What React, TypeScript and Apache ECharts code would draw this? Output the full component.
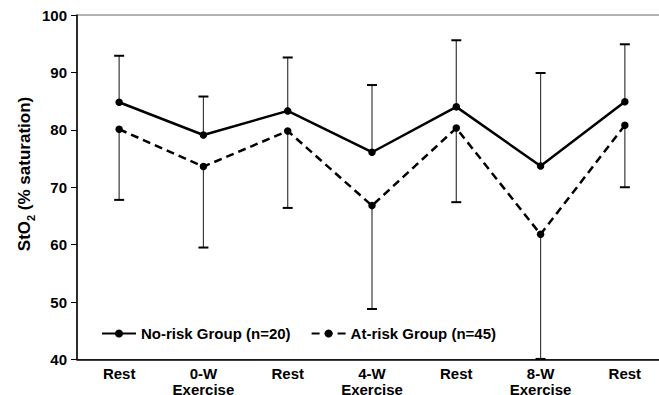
import React, { useEffect, useRef } from "react";
import * as echarts from "echarts";

const categories = ["Rest", "0-W\nExercise", "Rest", "4-W\nExercise", "Rest", "8-W\nExercise", "Rest"];
const yTicks = [40, 50, 60, 70, 80, 90, 100];
const noRiskName = "No-risk Group (n=20)";
const atRiskName = "At-risk Group (n=45)";
const noRiskMean = [84.8, 79.1, 83.3, 76.1, 84.0, 73.7, 84.9];
const noRiskUpper = [92.9, 85.8, 92.6, 87.8, 95.6, 89.9, 94.9];
const atRiskMean = [80.1, 73.6, 79.8, 66.8, 80.3, 61.8, 80.8];
const atRiskLower = [67.8, 59.5, 66.4, 48.8, 67.4, 40.1, 70.0];

const FONT = "Liberation Sans, Arial, Helvetica, sans-serif";

function errorSeries(mean: number[], bound: number[]) {
  return {
    type: "custom",
    z: 1,
    silent: true,
    data: mean.map((m, i) => [i, m, bound[i]]),
    encode: { x: 0, y: [1, 2] },
    renderItem: (params: any, api: any) => {
      const i = api.value(0);
      const p0 = api.coord([i, api.value(1)]);
      const p1 = api.coord([i, api.value(2)]);
      const hw = 5;
      return {
        type: "group",
        children: [
          {
            type: "line",
            shape: { x1: p0[0], y1: p0[1], x2: p1[0], y2: p1[1] },
            style: { stroke: "#3a3a3a", lineWidth: 1.2 },
          },
          {
            type: "line",
            shape: { x1: p1[0] - hw, y1: p1[1], x2: p1[0] + hw, y2: p1[1] },
            style: { stroke: "#000", lineWidth: 2 },
          },
        ],
      };
    },
  };
}

export default function App() {
  const ref = useRef<HTMLDivElement>(null);
  useEffect(() => {
    if (!ref.current) return;
    const chart = echarts.init(ref.current, undefined, { renderer: "svg" });
    chart.setOption({
      animation: false,
      backgroundColor: "#fff",
      textStyle: { fontFamily: FONT },
      grid: {
        left: 77,
        width: 590,
        top: 15,
        bottom: 35.5,
        outerBoundsMode: "none",
        containLabel: false,
        show: true,
        borderColor: "#666",
        borderWidth: 1,
        backgroundColor: "transparent",
      },
      legend: {
        data: [noRiskName, atRiskName],
        left: 101,
        top: 326,
        padding: 0,
        itemWidth: 34,
        itemHeight: 10,
        itemGap: 20,
        textStyle: { fontFamily: FONT, fontWeight: "bold", fontSize: 15, color: "#000" },
      },
      xAxis: {
        type: "category",
        data: categories,
        boundaryGap: true,
        axisLine: { lineStyle: { color: "#000", width: 1.5 } },
        axisTick: { alignWithLabel: true, length: 5, lineStyle: { color: "#000", width: 1 } },
        axisLabel: {
          interval: 0,
          margin: 6,
          fontFamily: FONT,
          fontWeight: "bold",
          fontSize: 15,
          lineHeight: 16,
          color: "#000",
        },
        splitLine: { show: false },
      },
      yAxis: {
        type: "value",
        min: yTicks[0],
        max: yTicks[yTicks.length - 1],
        interval: 10,
        axisLine: { show: true, lineStyle: { color: "#000", width: 1.5 } },
        axisTick: { show: true, length: 6, lineStyle: { color: "#000", width: 1 } },
        axisLabel: {
          margin: 10,
          fontFamily: FONT,
          fontWeight: "bold",
          fontSize: 15,
          color: "#000",
        },
        splitLine: { show: false },
      },
      graphic: [
        {
          type: "text",
          x: 24,
          y: 174,
          rotation: Math.PI / 2,
          style: {
            text: "{a|StO}{s|2}{a| (% saturation)}",
            align: "center",
            verticalAlign: "middle",
            rich: {
              a: { fontFamily: FONT, fontWeight: "bold", fontSize: 17, lineHeight: 24, fill: "#000" },
              s: { fontFamily: FONT, fontWeight: "bold", fontSize: 11, lineHeight: 13, verticalAlign: "bottom", fill: "#000" },
            },
          },
        },
      ],
      series: [
        errorSeries(noRiskMean, noRiskUpper),
        errorSeries(atRiskMean, atRiskLower),
        {
          name: noRiskName,
          type: "line",
          z: 3,
          data: noRiskMean,
          symbol: "circle",
          symbolSize: 7.5,
          itemStyle: { color: "#000" },
          lineStyle: { color: "#000", width: 2.5, type: "solid" },
        },
        {
          name: atRiskName,
          type: "line",
          z: 3,
          data: atRiskMean,
          symbol: "circle",
          symbolSize: 7.5,
          itemStyle: { color: "#000" },
          lineStyle: { color: "#000", width: 2.5, type: [8, 5] },
        },
      ],
    });
    return () => chart.dispose();
  }, []);
  return (
    <div
      ref={ref}
      style={{ position: "absolute", left: 0, top: 0, width: 659, height: 395, background: "#fff" }}
    />
  );
}
